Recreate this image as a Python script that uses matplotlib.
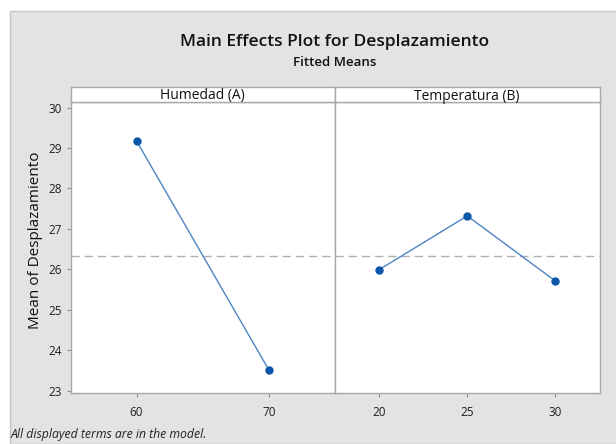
import matplotlib.pyplot as plt
from matplotlib.patches import Rectangle

# values
humedad_levels = ['60', '70']
humedad_means = [29.17, 23.51]
temp_levels = ['20', '25', '30']
temp_means = [25.99, 27.32, 25.71]
grand_mean = 26.34
y_ticks = [23, 24, 25, 26, 27, 28, 29, 30]

panels = [("Humedad (A)", humedad_levels, humedad_means),
          ("Temperatura (B)", temp_levels, temp_means)]

plt.rcParams['font.family'] = ['Open Sans', 'DejaVu Sans']

W, H = 616, 444
fig = plt.figure(figsize=(W / 100, H / 100), dpi=100)
fig.patch.set_facecolor('white')

# gray Minitab-style background, kept behind the axes
fig.patches.append(Rectangle((10 / W, 0), 1, 1 - 11 / H, transform=fig.transFigure,
                             facecolor='#e3e3e3', edgecolor='#c4c4c4', lw=1.0, zorder=-5))

left, right, mid = 70.5 / W, 599.5 / W, 335 / W
bottom, top, strip_top = 1 - 393 / H, 1 - 102.3 / H, 1 - 87.3 / H

line_col = '#4d84c4'
marker_col = '#0b56a8'
spine_col = '#a8a8a8'

xs = [(left, mid), (mid, right)]
for i, (name, levels, means) in enumerate(panels):
    x0, x1 = xs[i]
    ax = fig.add_axes([x0, bottom, x1 - x0, top - bottom])
    ax.set_facecolor('white')
    pos = list(range(len(levels)))
    ax.plot(pos, means, color=line_col, lw=1.0, zorder=2)
    ax.plot(pos, means, 'o', color=marker_col, ms=5, zorder=3)
    ax.axhline(grand_mean, color='#b0b0b0', lw=1.0, ls=(0, (6, 3.5)), zorder=1)
    ax.set_xlim(-0.5, len(levels) - 0.5)
    ax.set_ylim(22.94, 30.13)
    ax.set_xticks(pos)
    ax.set_xticklabels(levels)
    ax.set_yticks(y_ticks)
    for s in ax.spines.values():
        s.set_color(spine_col)
        s.set_linewidth(1.0)
    ax.tick_params(axis='both', length=3, color='#909090', labelsize=8.5,
                   labelcolor='#202020', pad=3)
    ax.tick_params(axis='x', pad=6)
    if i == 1:
        ax.tick_params(axis='y', left=False, labelleft=False)

    sax = fig.add_axes([x0, top, x1 - x0, strip_top - top])
    sax.set_facecolor('white')
    sax.set_xticks([])
    sax.set_yticks([])
    for s in sax.spines.values():
        s.set_color(spine_col)
        s.set_linewidth(1.0)
    sax.text(0.5, 0.42, name, ha='center', va='center', fontsize=10,
             color='#111111', transform=sax.transAxes)

fig.text(36 / W, 1 - 240 / H, "Mean of Desplazamiento", rotation=90,
         ha='center', va='center', fontsize=11, color='#111111')
fig.text(335 / W, 1 - 42 / H, "Main Effects Plot for Desplazamiento",
         ha='center', va='center', fontsize=12.5, weight='semibold', color='#111111')
fig.text(335 / W, 1 - 62 / H, "Fitted Means",
         ha='center', va='center', fontsize=9.5, weight='semibold', color='#111111')
fig.text(11 / W, 1 - 434 / H, "All displayed terms are in the model.",
         ha='left', va='center', fontsize=8.8, style='italic', color='#222222')

fig.savefig('out.png', dpi=100)
